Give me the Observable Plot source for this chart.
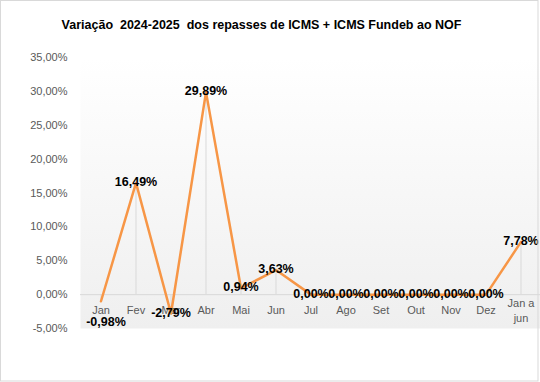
<!DOCTYPE html>
<html>
<head>
<meta charset="utf-8">
<script src="https://cdn.jsdelivr.net/npm/d3@7"></script>
<script src="https://cdn.jsdelivr.net/npm/@observablehq/plot@0.6"></script>
<style>
  html, body { margin: 0; padding: 0; background: #fff; }
  #chart { width: 540px; height: 382px; }
</style>
</head>
<body>
<div id="chart"></div>
<script>
const categories = ["Jan","Fev","Mar","Abr","Mai","Jun","Jul","Ago","Set","Out","Nov","Dez","Jan a jun"];
const tickLabels = ["Jan","Fev","Mar","Abr","Mai","Jun","Jul","Ago","Set","Out","Nov","Dez","Jan a\njun"];
const values = [-0.98, 16.49, -2.79, 29.89, 0.94, 3.63, 0, 0, 0, 0, 0, 0, 7.78];
const yTicks = [-5, 0, 5, 10, 15, 20, 25, 30, 35];
const title = "Variação  2024-2025  dos repasses de ICMS + ICMS Fundeb ao NOF";

const data = categories.map((c, i) => ({cat: c, v: values[i], tick: tickLabels[i]}));
const fmt = v => v.toFixed(2).replace(".", ",") + "%";
const font = "'Liberation Sans', Arial, sans-serif";

const first = data.filter(d => d.cat === "Jan");
const rest = data.filter(d => d.cat !== "Jan");

const plot = Plot.plot({
  width: 540,
  height: 382,
  marginLeft: 80,
  marginRight: 0,
  marginTop: 57,
  marginBottom: 54,
  style: {fontFamily: font, background: "#fff"},
  x: {domain: categories, type: "band", padding: 0, axis: null},
  y: {domain: [-5, 35], axis: null},
  marks: [
    Plot.frame({fill: "url(#bgGrad)", stroke: "none"}),
    Plot.ruleY([0], {stroke: "#d9d9d9", strokeWidth: 1}),
    Plot.ruleX(data, {x: "cat", y1: 0, y2: "v", stroke: "#d9d9d9", strokeWidth: 1}),
    Plot.axisY({ticks: yTicks, tickSize: 0, tickPadding: 13, tickFormat: fmt, fontSize: 11, fill: "#595959", label: null}),
    Plot.text(data, {x: "cat", y: 0, text: "tick", dy: 15, lineAnchor: "middle", fontSize: 11, fill: "#595959", lineHeight: 1.36, textAnchor: "middle"}),
    Plot.line(data, {x: "cat", y: "v", stroke: "#f79646", strokeWidth: 2.5}),
    Plot.text(rest, {x: "cat", y: "v", text: d => fmt(d.v), dy: -1, fontSize: 12.5, fontWeight: "bold", fill: "#000"}),
    Plot.text(first, {x: "cat", y: "v", text: d => fmt(d.v), dy: 21, dx: 5, fontSize: 12.5, fontWeight: "bold", fill: "#000"}),
    Plot.text([title], {frameAnchor: "top", text: d => d, x: null, dy: -37, dx: -49, fontSize: 12.5, fontWeight: "bold", fill: "#000"})
  ]
});

const svg = d3.select(plot);
const defs = svg.insert("defs", ":first-child");
const g = defs.append("linearGradient").attr("id", "bgGrad").attr("x1", 0).attr("y1", 0).attr("x2", 0).attr("y2", 1);
g.append("stop").attr("offset", "0%").attr("stop-color", "#ffffff");
g.append("stop").attr("offset", "100%").attr("stop-color", "#efefef");
svg.append("rect").attr("x", 0.5).attr("y", 0.5).attr("width", 537.5).attr("height", 380.5)
  .attr("fill", "none").attr("stroke", "#d9d9d9");

document.getElementById("chart").appendChild(plot);
</script>
</body>
</html>
